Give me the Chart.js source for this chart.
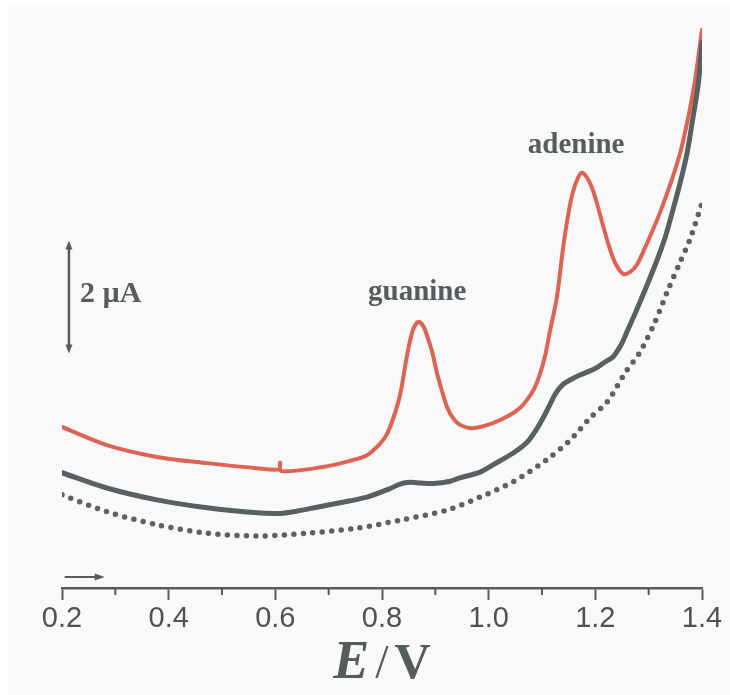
<!DOCTYPE html>
<html>
<head>
<meta charset="utf-8">
<script src="https://cdn.jsdelivr.net/npm/chart.js@4/dist/chart.umd.min.js"></script>
<style>
  html, body { margin: 0; padding: 0; background: #ffffff; }
  #wrap { width: 730px; height: 695px; position: relative; }
</style>
</head>
<body>
<div id="wrap"><canvas id="cv"></canvas></div>
<script>
// potential (V) and current (uA, arbitrary offset)
const redE = [0.200, 0.284, 0.378, 0.472, 0.566, 0.607, 0.609, 0.611, 0.689, 0.740, 0.772, 0.796, 0.809, 0.821, 0.834, 0.847, 0.858, 0.868, 0.877, 0.884, 0.894, 0.903, 0.913, 0.922, 0.933, 0.946, 0.971, 1.008, 1.040, 1.059, 1.072, 1.085, 1.096, 1.106, 1.115, 1.128, 1.139, 1.149, 1.158, 1.168, 1.175, 1.184, 1.194, 1.203, 1.214, 1.228, 1.239, 1.252, 1.265, 1.278, 1.293, 1.308, 1.321, 1.340, 1.359, 1.374, 1.387, 1.400];
const redI = [2.85, 2.53, 2.32, 2.21, 2.12, 2.10, 2.22, 2.07, 2.14, 2.25, 2.35, 2.55, 2.72, 3.00, 3.42, 4.12, 4.57, 4.71, 4.64, 4.48, 4.18, 3.81, 3.47, 3.20, 3.01, 2.89, 2.83, 2.92, 3.06, 3.19, 3.33, 3.52, 3.78, 4.12, 4.55, 5.15, 5.98, 6.60, 7.01, 7.27, 7.35, 7.27, 7.08, 6.81, 6.43, 5.98, 5.72, 5.56, 5.59, 5.72, 6.02, 6.34, 6.64, 7.13, 7.70, 8.32, 8.99, 9.88];

const grayE = [0.200, 0.284, 0.378, 0.472, 0.566, 0.609, 0.640, 0.678, 0.721, 0.772, 0.815, 0.834, 0.853, 0.871, 0.896, 0.928, 0.946, 0.984, 1.008, 1.046, 1.072, 1.091, 1.106, 1.115, 1.126, 1.139, 1.156, 1.171, 1.199, 1.218, 1.233, 1.248, 1.261, 1.276, 1.293, 1.316, 1.331, 1.344, 1.359, 1.372, 1.383, 1.393, 1.400];
const grayI = [2.04, 1.77, 1.56, 1.42, 1.33, 1.32, 1.36, 1.43, 1.51, 1.61, 1.76, 1.84, 1.87, 1.86, 1.85, 1.89, 1.95, 2.05, 2.18, 2.39, 2.58, 2.83, 3.08, 3.25, 3.45, 3.60, 3.70, 3.77, 3.88, 4.00, 4.09, 4.30, 4.57, 4.89, 5.27, 5.81, 6.21, 6.64, 7.17, 7.70, 8.32, 8.92, 9.66];

const blankE = [0.200, 0.284, 0.378, 0.472, 0.566, 0.659, 0.753, 0.834, 0.922, 0.984, 1.046, 1.109, 1.153, 1.190, 1.222, 1.256, 1.284, 1.312, 1.336, 1.359, 1.377, 1.400];
const blankI = [1.65, 1.35, 1.12, 0.97, 0.92, 0.97, 1.06, 1.20, 1.38, 1.61, 1.88, 2.27, 2.62, 3.01, 3.29, 3.81, 4.18, 4.71, 5.27, 5.77, 6.16, 6.81];

const xTicks = [0.2, 0.4, 0.6, 0.8, 1.0, 1.2, 1.4];
const xMinor = [0.3, 0.5, 0.7, 0.9, 1.1, 1.3];

const peakLabels = ['guanine', 'adenine'];
const peakE = [0.866, 1.164];
const peakI = [5.10, 7.70];

const INK = '#565b5d';

function pts(xs, ys) {
  return xs.map((x, i) => ({ x, y: ys[i] }));
}

const decor = {
  id: 'decor',
  beforeDraw(chart) {
    const c = chart.ctx;
    c.save();
    c.fillStyle = '#ffffff';
    c.fillRect(0, 0, chart.width, chart.height);
    c.fillStyle = '#f9f9f9';
    c.fillRect(8, 5, chart.width - 8, chart.height - 5);
    c.restore();
  },
  afterDraw(chart) {
    const c = chart.ctx;
    const xs = chart.scales.x;
    const ys = chart.scales.y;
    const base = xs.top;
    c.save();
    c.strokeStyle = INK;
    c.fillStyle = INK;

    // minor ticks
    c.lineWidth = 2;
    for (const v of xMinor) {
      const px = xs.getPixelForValue(v);
      c.beginPath();
      c.moveTo(px, base);
      c.lineTo(px, base + 7);
      c.stroke();
    }

    // scan direction arrow
    const ax0 = xs.getPixelForValue(0.205);
    const ax1 = xs.getPixelForValue(0.28);
    c.lineWidth = 2;
    c.beginPath();
    c.moveTo(ax0, base - 11);
    c.lineTo(ax1 - 6, base - 11);
    c.stroke();
    c.beginPath();
    c.moveTo(ax1, base - 11);
    c.lineTo(ax1 - 10, base - 14.5);
    c.lineTo(ax1 - 10, base - 7.5);
    c.closePath();
    c.fill();

    // 2 uA scale bar
    const bx = xs.getPixelForValue(0.213);
    const by1 = ys.getPixelForValue(6.15);
    const by0 = ys.getPixelForValue(4.15);
    c.lineWidth = 2.5;
    c.beginPath();
    c.moveTo(bx, by1 + 6);
    c.lineTo(bx, by0 - 6);
    c.stroke();
    c.beginPath();
    c.moveTo(bx, by1);
    c.lineTo(bx - 3.5, by1 + 9);
    c.lineTo(bx + 3.5, by1 + 9);
    c.closePath();
    c.fill();
    c.beginPath();
    c.moveTo(bx, by0);
    c.lineTo(bx - 3.5, by0 - 9);
    c.lineTo(bx + 3.5, by0 - 9);
    c.closePath();
    c.fill();

    c.font = 'bold 30px "Liberation Serif", "Times New Roman", serif';
    c.textBaseline = 'alphabetic';
    c.textAlign = 'left';
    c.fillText('2 \u00b5A', bx + 11, ys.getPixelForValue(5.1) + 2);

    // peak labels
    c.textAlign = 'center';
    c.font = 'bold 29px "Liberation Serif", "Times New Roman", serif';
    peakLabels.forEach((t, i) => {
      c.fillText(t, xs.getPixelForValue(peakE[i]), ys.getPixelForValue(peakI[i]));
    });

    // axis title E / V
    const tx = xs.getPixelForValue(0.8);
    const ty = base + 90;
    const fE = 'bold italic 54px "Liberation Serif", "Times New Roman", serif';
    const fS = '48px "Liberation Serif", "Times New Roman", serif';
    const fV = 'bold 50px "Liberation Serif", "Times New Roman", serif';
    c.textAlign = 'left';
    c.font = fE;
    const wE = c.measureText('E').width;
    c.font = fS;
    const wS = c.measureText('/').width;
    c.font = fV;
    const wV = c.measureText('V').width;
    const gap = 6;
    let x = tx - (wE + wS + wV + 2 * gap) / 2;
    c.font = fE;
    c.fillText('E', x, ty);
    x += wE + gap;
    c.font = fS;
    c.fillText('/', x, ty);
    x += wS + gap;
    c.font = fV;
    c.fillText('V', x, ty);
    c.restore();
  }
};

const lineBase = {
  pointRadius: 0,
  fill: false,
  tension: 0.3,
  borderJoinStyle: 'round',
  borderCapStyle: 'round'
};

new Chart(document.getElementById('cv'), {
  type: 'line',
  data: {
    datasets: [
      Object.assign({}, lineBase, {
        label: 'blank',
        data: pts(blankE, blankI),
        borderColor: '#5b6164',
        borderWidth: 5.5,
        borderDash: [0, 9.5]
      }),
      Object.assign({}, lineBase, {
        label: 'DNA',
        data: pts(grayE, grayI),
        borderColor: '#596062',
        borderWidth: 5
      }),
      Object.assign({}, lineBase, {
        label: 'DNA (modified)',
        data: pts(redE, redI),
        borderColor: '#dd6452',
        borderWidth: 4
      })
    ]
  },
  options: {
    responsive: true,
    maintainAspectRatio: false,
    animation: false,
    layout: { padding: { left: 62, right: 28, top: 23, bottom: 0 } },
    plugins: {
      legend: { display: false },
      tooltip: { enabled: false }
    },
    scales: {
      x: {
        type: 'linear',
        min: 0.2,
        max: 1.4,
        afterFit: (scale) => { scale.height = 107; },
        afterBuildTicks: (scale) => { scale.ticks = xTicks.map((v) => ({ value: v })); },
        ticks: {
          callback: (v) => Number(v).toFixed(1),
          color: '#4e5254',
          font: { family: '"Liberation Sans", Arial, sans-serif', size: 29 },
          padding: 2,
          maxRotation: 0,
          autoSkip: false
        },
        grid: {
          drawOnChartArea: false,
          tickLength: 12,
          tickColor: INK,
          tickWidth: 2
        },
        border: { color: INK, width: 2.5 }
      },
      y: {
        display: false,
        min: 0,
        max: 10
      }
    }
  },
  plugins: [decor]
});
</script>
</body>
</html>
